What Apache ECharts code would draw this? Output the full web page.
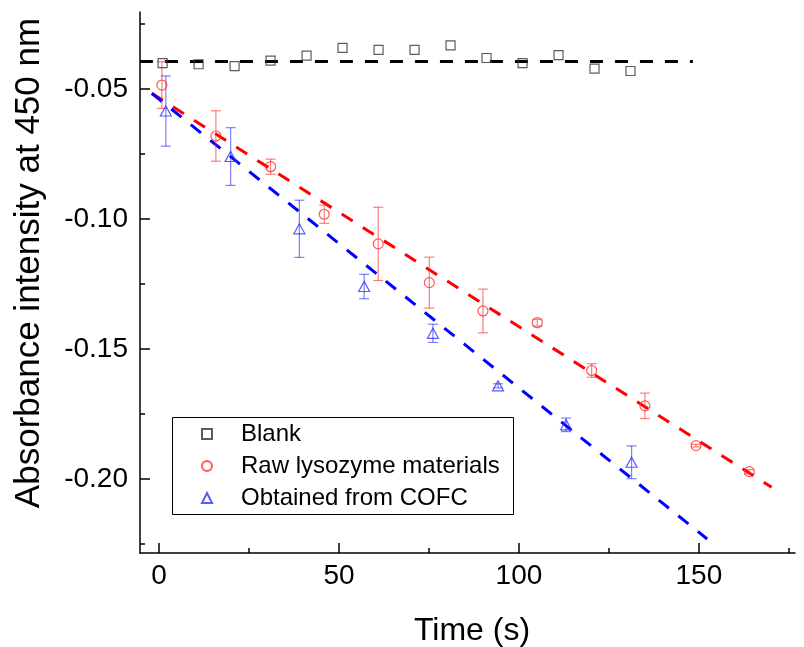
<!DOCTYPE html>
<html>
<head>
<meta charset="utf-8">
<script src="https://cdn.jsdelivr.net/npm/echarts@6/dist/echarts.min.js"></script>
<style>
html,body{margin:0;padding:0;background:#fff;}
#chart{width:804px;height:647px;}
</style>
</head>
<body>
<div id="chart"></div>
<script>
// ---- data ----
const blankX = [1, 11, 21, 31, 41, 51, 61, 71, 81, 91, 101, 111, 121, 131];
const blankY = [-0.0401, -0.0405, -0.0412, -0.0391, -0.0372, -0.0342, -0.0350, -0.0350, -0.0332, -0.0381, -0.0401, -0.0370, -0.0422, -0.0431];

const rawX = [0.8, 15.8, 31.0, 45.9, 60.9, 75.1, 90.0, 105.1, 120.2, 135.0, 149.2, 164.0];
const rawY = [-0.0485, -0.0681, -0.0799, -0.0982, -0.1096, -0.1245, -0.1354, -0.1399, -0.1583, -0.1719, -0.1872, -0.1972];
const rawErr = [0.0090, 0.0097, 0.0029, 0.0035, 0.0141, 0.0098, 0.0084, 0.0013, 0.0026, 0.0049, 0.0005, 0.0008];

const cofcX = [1.9, 19.9, 39.0, 57.0, 76.1, 94.2, 113.1, 131.3];
const cofcY = [-0.0585, -0.0760, -0.1038, -0.1260, -0.1440, -0.1642, -0.1792, -0.1936];
const cofcErr = [0.0135, 0.0111, 0.0110, 0.0047, 0.0035, 0.0008, 0.0026, 0.0063];

// linear fit lines (end points)
const blankFitX = [-5.3, 148.3];
const blankFitY = [-0.0394, -0.0394];
const rawFitX = [-2.0, 170.2];
const rawFitY = [-0.0517, -0.2032];
const cofcFitX = [-2.0, 152.3];
const cofcFitY = [-0.0517, -0.2231];

// axes
const xMin = -5.28, xMax = 176.7;
const yMin = -0.2285, yMax = -0.0204;
const xMajor = [0, 50, 100, 150];
const xMinor = [25, 75, 125, 175];
const yMajor = [-0.20, -0.15, -0.10, -0.05];
const yMinor = [-0.225, -0.175, -0.125, -0.075, -0.025];

const seriesNames = ['Blank', 'Raw lysozyme materials', 'Obtained from COFC'];
const xTitle = 'Time (s)';
const yTitle = 'Absorbance intensity at 450 nm';

// ---- helpers ----
const zip = (xs, ys) => xs.map((x, i) => [x, ys[i]]);
const zip3 = (xs, ys, es) => xs.map((x, i) => [x, ys[i], es[i]]);
const FONT = '"Liberation Sans", Arial, sans-serif';

function errRender(color) {
  return function (params, api) {
    const x = api.value(0), y = api.value(1), e = api.value(2);
    const top = api.coord([x, y + e]);
    const bot = api.coord([x, y - e]);
    const cw = 5;
    const st = { stroke: color, lineWidth: 1.2 };
    return {
      type: 'group',
      children: [
        { type: 'line', shape: { x1: top[0], y1: top[1], x2: bot[0], y2: bot[1] }, style: st },
        { type: 'line', shape: { x1: top[0] - cw, y1: top[1], x2: top[0] + cw, y2: top[1] }, style: st },
        { type: 'line', shape: { x1: bot[0] - cw, y1: bot[1], x2: bot[0] + cw, y2: bot[1] }, style: st }
      ]
    };
  };
}

const axisLineStyle = { color: '#000', width: 1.5 };

const chart = echarts.init(document.getElementById('chart'), null, { renderer: 'canvas' });
const option = {
  animation: false,
  backgroundColor: '#fff',
  grid: { left: 140, right: 9, top: 12, bottom: 94 },
  xAxis: [
    {
      type: 'value', min: xMin, max: xMax, position: 'bottom',
      axisLine: { show: true, onZero: false, lineStyle: axisLineStyle },
      axisTick: { show: true, inside: true, length: 10, customValues: xMajor, lineStyle: axisLineStyle },
      axisLabel: { customValues: xMajor, fontSize: 28, fontFamily: FONT, color: '#000', margin: 9 },
      splitLine: { show: false }
    },
    {
      type: 'value', min: xMin, max: xMax, position: 'bottom',
      axisLine: { show: false, onZero: false },
      axisTick: { show: true, inside: true, length: 5, customValues: xMinor, lineStyle: axisLineStyle },
      axisLabel: { show: false },
      splitLine: { show: false }
    }
  ],
  yAxis: [
    {
      type: 'value', min: yMin, max: yMax, position: 'left',
      axisLine: { show: true, onZero: false, lineStyle: axisLineStyle },
      axisTick: { show: true, inside: true, length: 10, customValues: yMajor, lineStyle: axisLineStyle },
      axisLabel: {
        customValues: yMajor, fontSize: 28, fontFamily: FONT, color: '#000', margin: 12,
        formatter: v => v.toFixed(2)
      },
      splitLine: { show: false }
    },
    {
      type: 'value', min: yMin, max: yMax, position: 'left',
      axisLine: { show: false, onZero: false },
      axisTick: { show: true, inside: true, length: 5, customValues: yMinor, lineStyle: axisLineStyle },
      axisLabel: { show: false },
      splitLine: { show: false }
    }
  ],
  legend: {
    data: seriesNames,
    orient: 'vertical',
    left: 201, top: 418,
    padding: 0,
    itemGap: 0,
    itemWidth: 10, itemHeight: 10,
    selectedMode: false,
    textStyle: { fontSize: 24, fontFamily: FONT, color: '#000', lineHeight: 32, padding: [0, 0, 0, 24] },
    z: 5
  },
  graphic: [
    { type: 'rect', z: 3, shape: { x: 172.5, y: 417.5, width: 341, height: 97 }, style: { fill: '#fff', stroke: '#000', lineWidth: 1 } },
    { type: 'text', x: 472, y: 631, style: { text: xTitle, fontSize: 32, fontFamily: FONT, fill: '#000', textAlign: 'center', textVerticalAlign: 'middle', align: 'center', verticalAlign: 'middle' } },
    { type: 'text', x: 29, y: 263, rotation: Math.PI / 2, style: { text: yTitle, fontSize: 35, fontFamily: FONT, fill: '#000', textAlign: 'center', textVerticalAlign: 'middle', align: 'center', verticalAlign: 'middle' } }
  ],
  series: [
    { type: 'line', silent: true, data: zip(blankFitX, blankFitY), symbol: 'none', z: 2,
      lineStyle: { color: '#000', width: 3, type: [13, 12] } },
    { type: 'line', silent: true, data: zip(rawFitX, rawFitY), symbol: 'none', z: 2,
      lineStyle: { color: '#ff0000', width: 3, type: [13, 12] } },
    { type: 'line', silent: true, data: zip(cofcFitX, cofcFitY), symbol: 'none', z: 2,
      lineStyle: { color: '#0000ff', width: 3, type: [13, 12] } },
    { type: 'custom', name: 'rawErr', silent: true, z: 3, renderItem: errRender('rgba(255,40,40,0.6)'),
      encode: { x: 0, y: 1 }, data: zip3(rawX, rawY, rawErr) },
    { type: 'custom', name: 'cofcErr', silent: true, z: 3, renderItem: errRender('rgba(40,40,255,0.6)'),
      encode: { x: 0, y: 1 }, data: zip3(cofcX, cofcY, cofcErr) },
    { type: 'scatter', name: seriesNames[0], data: zip(blankX, blankY), symbol: 'rect', symbolSize: 9, z: 4,
      itemStyle: { color: 'rgba(255,255,255,0)', borderColor: '#333', borderWidth: 1.2 } },
    { type: 'scatter', name: seriesNames[1], data: zip(rawX, rawY), symbol: 'circle', symbolSize: 10, z: 4,
      itemStyle: { color: 'rgba(255,255,255,0)', borderColor: '#ff3030', borderWidth: 1.2 } },
    { type: 'scatter', name: seriesNames[2], data: zip(cofcX, cofcY), symbol: 'triangle', symbolSize: [11, 10], z: 4,
      itemStyle: { color: 'rgba(255,255,255,0)', borderColor: '#3030ff', borderWidth: 1.2 } }
  ]
};
chart.setOption(option);
</script>
</body>
</html>
